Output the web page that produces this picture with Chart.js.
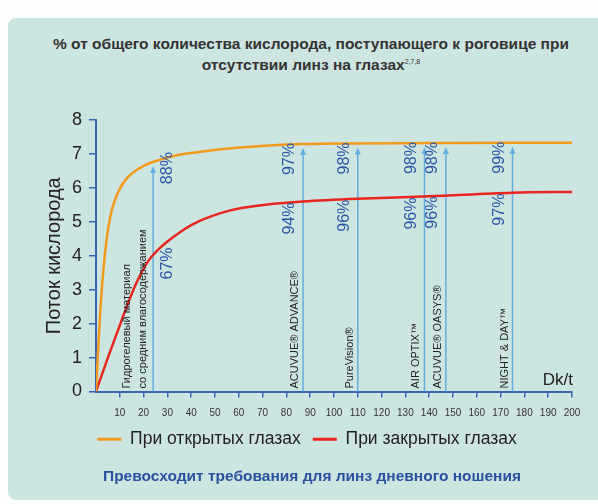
<!DOCTYPE html>
<html lang="ru">
<head>
  <meta charset="UTF-8">
  <title>Поток кислорода</title>
  <style>
    body { margin: 0; background: #fdfefe; font-family: Arial, "Liberation Sans", sans-serif; }
    #wrap { position: relative; width: 598px; height: 504px; overflow: hidden; }
    #card { position: absolute; left: 8px; top: 18px; width: 600px; height: 482px; background: #cde5e1; border-radius: 8px 0 0 8px; }
    #title { position: absolute; left: 0; top: 35px; width: 622px; text-align: center; font-size: 15.5px; font-weight: bold; line-height: 18px; color: #333; }
    #title sup { font-size: 7px; font-weight: normal; vertical-align: 6px; }
    #footer { position: absolute; left: 0; top: 466px; width: 624px; text-align: center; font-size: 15.5px; font-weight: bold; line-height: 20px; color: #2b50a0; }
    canvas { position: absolute; left: 0; top: 0; }
  </style>
</head>
<body>
  <div id="wrap">
    <div id="card"></div>
    <div id="title">% от общего количества кислорода, поступающего к роговице при<br>отсутствии линз на глазах<sup>2,7,8</sup></div>
    <canvas id="grafico" width="598" height="504"></canvas>
    <div id="footer">Превосходит требования для линз дневного ношения</div>
  </div>
  <script src="https://cdn.jsdelivr.net/npm/chart.js"></script>
  <script>
    // кривые (Dk/t -> поток кислорода)
    const openDk = [0, 1.5, 3, 4.5, 6, 8, 11, 15, 20, 25.5, 34, 45, 59, 73, 87, 110, 140, 175, 200];
    const openFlux = [0, 2.0, 3.5, 4.5, 5.15, 5.65, 6.1, 6.42, 6.65, 6.8, 6.96, 7.07, 7.18, 7.25, 7.29, 7.31, 7.32, 7.33, 7.33];
    const closedDk = [0, 5, 10, 14, 18, 22, 26, 30, 35, 40, 45, 52, 59, 73, 87, 110, 140, 175, 200];
    const closedFlux = [0, 1.0, 1.95, 2.7, 3.35, 3.85, 4.17, 4.42, 4.68, 4.9, 5.07, 5.25, 5.38, 5.52, 5.6, 5.68, 5.75, 5.86, 5.88];

    // линзы
    const lensNames = [['Гидрогелевый материал', 'со средним влагосодержанием'], ['ACUVUE® ADVANCE®'], ['PureVision®'], ['AIR OPTIX™'], ['ACUVUE® OASYS®'], ['NIGHT & DAY™']];
    const lensDk = [24, 87, 110, 138, 147, 175];
    const openPct = ['88%', '97%', '98%', '98%', '98%', '99%'];
    const closedPct = ['67%', '94%', '96%', '96%', '96%', '97%'];

    const xTicks = [10, 20, 30, 40, 50, 60, 70, 80, 90, 100, 110, 120, 130, 140, 150, 160, 170, 180, 190, 200];
    const yTicks = [0, 1, 2, 3, 4, 5, 6, 7, 8];

    const azul = '#3b62b3';
    const seta = '#62aede';
    const textoAzul = '#2d55a6';
    const fonte = 'Arial, "Liberation Sans", sans-serif';

    function interp(xs, ys, x) {
      for (let i = 1; i < xs.length; i++) {
        if (x <= xs[i]) {
          const t = (x - xs[i - 1]) / (xs[i] - xs[i - 1]);
          return ys[i - 1] + t * (ys[i] - ys[i - 1]);
        }
      }
      return ys[ys.length - 1];
    }

    function vertText(ctx, txt, x, y, align) {
      ctx.save();
      ctx.translate(x, y);
      ctx.rotate(-Math.PI / 2);
      ctx.textAlign = align;
      ctx.textBaseline = 'middle';
      ctx.fillText(txt, 0, 0);
      ctx.restore();
    }

    const setas = {
      id: 'setas',
      beforeDatasetsDraw(chart) {
        const { ctx, scales: { x, y } } = chart;
        ctx.save();
        ctx.strokeStyle = seta;
        ctx.fillStyle = seta;
        ctx.lineWidth = 1.5;
        lensDk.forEach(dk => {
          const px = x.getPixelForValue(dk);
          const tip = y.getPixelForValue(interp(openDk, openFlux, dk)) + 4;
          ctx.beginPath();
          ctx.moveTo(px, y.getPixelForValue(0));
          ctx.lineTo(px, tip + 5);
          ctx.stroke();
          ctx.beginPath();
          ctx.moveTo(px, tip);
          ctx.lineTo(px - 3, tip + 7);
          ctx.lineTo(px + 3, tip + 7);
          ctx.closePath();
          ctx.fill();
        });
        ctx.restore();
      },
      afterDatasetsDraw(chart) {
        const { ctx, scales: { x, y } } = chart;
        ctx.save();
        lensDk.forEach((dk, i) => {
          const px = x.getPixelForValue(dk);
          const base = y.getPixelForValue(0) - 3;
          // название линзы
          ctx.fillStyle = '#222';
          ctx.font = '11px ' + fonte;
          const nomes = lensNames[i];
          nomes.forEach((n, j) => {
            const off = nomes.length === 2 ? (j === 0 ? -26 : -10) : -8;
            vertText(ctx, n, px + off, base, 'left');
          });
          // проценты
          ctx.fillStyle = textoAzul;
          ctx.font = '16px ' + fonte;
          const dx = i === 0 ? 14 : -13;
          const dy = i === 0 ? -9 : 0;
          const yo = y.getPixelForValue(interp(openDk, openFlux, dk)) - 1 + dy;
          const yc = y.getPixelForValue(interp(closedDk, closedFlux, dk)) + 1 + dy;
          vertText(ctx, openPct[i], px + dx, yo, 'right');
          vertText(ctx, closedPct[i], px + dx, yc, 'right');
        });
        ctx.fillStyle = '#222';
        ctx.font = '17px ' + fonte;
        ctx.textAlign = 'right';
        ctx.textBaseline = 'bottom';
        ctx.fillText('Dk/t', x.right + 1, y.getPixelForValue(0) - 3);
        ctx.restore();
      }
    };

    new Chart(document.getElementById('grafico'), {
      type: 'line',
      data: {
        datasets: [{
          label: 'При открытых глазах',
          data: openDk.map((dk, i) => ({ x: dk, y: openFlux[i] })),
          borderColor: '#f29a1c',
          backgroundColor: '#f29a1c',
          borderWidth: 2.5,
          pointRadius: 0,
          cubicInterpolationMode: 'monotone'
        }, {
          label: 'При закрытых глазах',
          data: closedDk.map((dk, i) => ({ x: dk, y: closedFlux[i] })),
          borderColor: '#e8261e',
          backgroundColor: '#e8261e',
          borderWidth: 2.5,
          pointRadius: 0,
          cubicInterpolationMode: 'monotone'
        }]
      },
      options: {
        responsive: false,
        animation: false,
        layout: { padding: { left: 42, right: 26, top: 120, bottom: 46 } },
        plugins: {
          tooltip: { enabled: false },
          legend: {
            position: 'bottom',
            labels: {
              color: '#222',
              font: { size: 17.5, family: fonte },
              boxWidth: 24,
              boxHeight: 3,
              padding: 12,
              generateLabels(chart) {
                return chart.data.datasets.map((ds, i) => ({
                  text: ds.label,
                  fillStyle: ds.borderColor,
                  strokeStyle: ds.borderColor,
                  lineWidth: 0,
                  fontColor: '#222',
                  datasetIndex: i
                }));
              }
            }
          }
        },
        scales: {
          x: {
            type: 'linear',
            min: 0,
            max: 200,
            afterBuildTicks(scale) { scale.ticks = xTicks.map(v => ({ value: v })); },
            afterFit(scale) { scale.height = 27; },
            border: { color: azul, width: 2 },
            grid: { drawOnChartArea: false, color: azul, lineWidth: 1.5, tickLength: 6 },
            ticks: { color: '#333', font: { size: 10, family: fonte }, maxRotation: 0, autoSkip: false, padding: 10 }
          },
          y: {
            min: 0,
            max: 8,
            afterBuildTicks(scale) { scale.ticks = yTicks.map(v => ({ value: v })); },
            afterFit(scale) { scale.width = 54; },
            border: { color: azul, width: 2 },
            grid: { drawOnChartArea: false, color: azul, lineWidth: 1.5, tickLength: 7 },
            ticks: { color: '#222', font: { size: 18, family: fonte }, padding: 7 },
            title: { display: true, text: 'Поток кислорода', color: '#222', font: { size: 20, family: fonte }, padding: 0 }
          }
        }
      },
      plugins: [setas]
    });
  </script>
</body>
</html>
